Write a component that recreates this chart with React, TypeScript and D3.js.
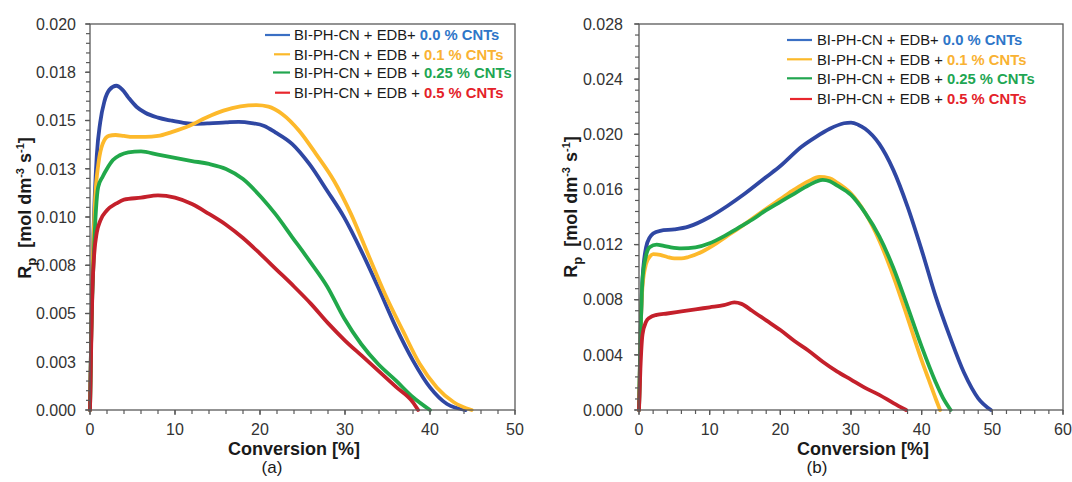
import React from "react";
import * as d3 from "d3";

type Pt = [number, number];

// ---------- Tick values / labels ----------
const xTicksA = [0, 10, 20, 30, 40, 50];
const xMinorA = d3.range(0, 50.01, 2);
const yTicksA = [0, 0.0025, 0.005, 0.0075, 0.01, 0.0125, 0.015, 0.0175, 0.02];
const yTickLabelsA = ["0.000", "0.003", "0.005", "0.008", "0.010", "0.013", "0.015", "0.018", "0.020"];
const yMinorA = d3.range(0, 0.02001, 0.0005);

const xTicksB = [0, 10, 20, 30, 40, 50, 60];
const xMinorB = d3.range(0, 60.01, 2);
const yTicksB = [0, 0.004, 0.008, 0.012, 0.016, 0.02, 0.024, 0.028];
const yTickLabelsB = ["0.000", "0.004", "0.008", "0.012", "0.016", "0.020", "0.024", "0.028"];
const yMinorB = d3.range(0, 0.02801, 0.0008);

// ---------- Legend ----------
const legendPrefixes = ["BI-PH-CN + EDB+ ", "BI-PH-CN + EDB + ", "BI-PH-CN + EDB + ", "BI-PH-CN + EDB + "];
const legendConc = ["0.0 % CNTs", "0.1 % CNTs", "0.25 % CNTs", "0.5 % CNTs"];

// ---------- Series (a) ----------
const blueA: Pt[] = [[0,0],[0.15,0.004],[0.4,0.009],[0.8,0.0132],[1.2,0.0149],[1.7,0.016],[2.3,0.0166],[3.1,0.0168],[3.8,0.0166],[4.5,0.0162],[5.5,0.0157],[6.5,0.0154],[8,0.01515],[9.5,0.015],[11,0.01488],[12.5,0.01483],[14,0.01485],[16,0.0149],[17.5,0.01493],[19,0.01487],[20.5,0.01472],[21.8,0.01439],[23.8,0.01378],[25.8,0.01275],[27.9,0.01136],[29.9,0.00998],[31.9,0.00826],[33.9,0.00636],[36,0.00428],[38,0.00256],[40,0.00117],[42,0.00031],[44.2,0]];
const yellowA: Pt[] = [[0,0],[0.15,0.004],[0.35,0.008],[0.6,0.0109],[1.0,0.0128],[1.5,0.0138],[2.2,0.0142],[3,0.01425],[4,0.0142],[5,0.01415],[6.5,0.01415],[8,0.0142],[9.6,0.0144],[11.7,0.01473],[13.7,0.01516],[15.7,0.01551],[17.7,0.01573],[19.6,0.0158],[21,0.01572],[22.6,0.01534],[24.6,0.01447],[26.6,0.01326],[28.7,0.01188],[30.7,0.01016],[32.7,0.00808],[34.7,0.00601],[36.8,0.00411],[38.8,0.00238],[40.8,0.00117],[42.8,0.0004],[44.9,0]];
const greenA: Pt[] = [[0,0],[0.15,0.004],[0.4,0.0075],[0.96,0.01155],[1.5,0.0121],[2,0.0125],[2.7,0.01295],[3.5,0.0132],[4.5,0.01335],[6,0.0134],[8,0.01323],[10,0.01306],[12,0.0129],[14,0.01275],[16,0.01249],[18,0.01197],[20.2,0.011],[21.8,0.01016],[23.8,0.00895],[25.8,0.00774],[27.9,0.0064],[29.9,0.00475],[31.9,0.00342],[33.9,0.00238],[36,0.00152],[38,0.00066],[40,0]];
const redA: Pt[] = [[0,0],[0.2,0.0047],[0.3,0.0064],[0.5,0.0081],[0.8,0.0092],[1.2,0.0098],[2,0.01035],[3.1,0.0107],[4,0.0109],[6,0.011],[8,0.01112],[10,0.011],[12,0.01067],[14,0.01016],[16,0.0096],[18,0.00891],[20,0.0081],[22,0.00725],[24,0.0064],[26,0.0055],[28,0.0045],[30,0.0036],[32,0.0028],[34,0.002],[36,0.0012],[38,0.0004],[38.6,0]];

// ---------- Series (b) ----------
const blueB: Pt[] = [[0,0],[0.2,0.005],[0.5,0.0095],[1,0.0118],[1.5,0.0125],[2,0.0128],[3,0.013],[5,0.0131],[7,0.0133],[10,0.014],[12.5,0.0148],[15,0.0157],[18,0.0169],[20,0.0177],[23,0.0191],[25,0.0198],[27,0.0204],[29,0.0208],[30,0.02085],[31,0.0207],[32,0.0204],[34,0.0193],[36,0.0174],[38,0.01475],[40,0.0116],[42,0.0082],[44,0.0053],[46,0.0027],[48,0.00085],[49.8,0]];
const yellowB: Pt[] = [[0,0],[0.2,0.005],[0.5,0.009],[1,0.0106],[1.5,0.0111],[2,0.0113],[3,0.01125],[4,0.0111],[5,0.011],[6,0.011],[7,0.0111],[9,0.0115],[11,0.0121],[13,0.0128],[15,0.0135],[18,0.0146],[20,0.0153],[22,0.016],[24,0.0166],[25.5,0.0169],[27,0.0168],[28,0.0165],[30,0.0157],[32,0.0143],[34,0.0123],[36,0.0097],[38,0.0067],[40,0.0036],[41,0.0022],[42,0.0008],[42.6,0]];
const greenB: Pt[] = [[0,0],[0.2,0.005],[0.5,0.0095],[1,0.0112],[1.5,0.0118],[2.5,0.012],[3.5,0.0119],[4.5,0.0118],[6,0.01172],[8,0.0118],[10,0.0121],[12,0.0126],[14,0.0132],[16,0.0138],[18,0.0145],[20,0.0151],[22,0.0157],[24,0.0163],[26,0.0167],[27,0.0166],[28,0.0163],[30,0.0156],[32,0.0143],[34,0.0126],[36,0.0103],[38,0.0075],[40,0.0046],[42,0.002],[43,0.0009],[44.1,0]];
const redB: Pt[] = [[0,0],[0.2,0.003],[0.5,0.0055],[1,0.0064],[1.5,0.0067],[2.5,0.0069],[4,0.007],[6,0.00715],[8,0.0073],[10,0.00745],[12,0.0076],[13.5,0.0078],[14.5,0.0077],[16,0.0072],[18,0.0065],[20,0.0058],[22,0.005],[24,0.0043],[26,0.0035],[28,0.0028],[30,0.0022],[32,0.0016],[34,0.0011],[36,0.0005],[37.8,0]];

const curveColors = ["#2f47a3", "#fdb92b", "#21a84a", "#c4202b"];
const legendLineColors = ["#3a6fc4", "#fbb92a", "#22a650", "#e8262d"];
const concColors = ["#2e76c8", "#f9b233", "#1fa653", "#e42229"];

const FONT = "'Liberation Sans', Arial, sans-serif";
const AXIS = "#595959";

interface PanelProps {
  left: number; right: number; top: number; bottom: number;
  xDomain: [number, number]; yDomain: [number, number];
  xTicks: number[]; xMinor: number[]; yTicks: number[]; yLabels: string[]; yMinor: number[];
  series: Pt[][];
  yLabelX: number;
  yTitle: [number, number];
  xTitle: [number, number];
  sub: [number, number, string];
  legRows: number[]; legX1: number[]; legX2: number; legTextX: number;
}

function Panel(p: PanelProps) {
  const x = d3.scaleLinear().domain(p.xDomain).range([p.left, p.right]);
  const y = d3.scaleLinear().domain(p.yDomain).range([p.bottom, p.top]);
  const line = d3.line<Pt>().x(d => x(d[0])).y(d => y(d[1])).curve(d3.curveMonotoneX);
  return (
    <g>
      {p.series.map((s, i) => (
        <path key={i} d={line(s) || ""} fill="none" stroke={curveColors[i]} strokeWidth={3.8} strokeLinejoin="round" strokeLinecap="round" />
      ))}
      <rect x={p.left} y={p.top} width={p.right - p.left} height={p.bottom - p.top} fill="none" stroke={AXIS} strokeWidth={1.3} />
      {p.yMinor.map((v, i) => (
        <line key={"ym" + i} x1={p.left - 4} x2={p.left} y1={y(v)} y2={y(v)} stroke={AXIS} strokeWidth={1.2} />
      ))}
      {p.yTicks.map((v, i) => (
        <g key={"yt" + i}>
          <line x1={p.left - 5} x2={p.left} y1={y(v)} y2={y(v)} stroke={AXIS} strokeWidth={1.3} />
          <text x={p.yLabelX} y={y(v)} dy="0.36em" textAnchor="end" fontFamily={FONT} fontSize={16} fill="#333">{p.yLabels[i]}</text>
        </g>
      ))}
      {p.xMinor.map((v, i) => (
        <line key={"xm" + i} x1={x(v)} x2={x(v)} y1={p.bottom} y2={p.bottom + 4} stroke={AXIS} strokeWidth={1.2} />
      ))}
      {p.xTicks.map((v, i) => (
        <g key={"xt" + i}>
          <line x1={x(v)} x2={x(v)} y1={p.bottom} y2={p.bottom + 5} stroke={AXIS} strokeWidth={1.3} />
          <text x={x(v)} y={p.bottom + 25} textAnchor="middle" fontFamily={FONT} fontSize={16} fill="#333">{v}</text>
        </g>
      ))}
      <text x={p.xTitle[0]} y={p.xTitle[1]} textAnchor="middle" fontFamily={FONT} fontSize={18} fontWeight="bold" fill="#1a1a1a">Conversion [%]</text>
      <text transform={`translate(${p.yTitle[0]},${p.yTitle[1]}) rotate(-90)`} textAnchor="middle" fontFamily={FONT} fontSize={18} fontWeight="bold" fill="#1a1a1a">
        <tspan>R</tspan>
        <tspan fontSize={13} dy={5}>p</tspan>
        <tspan dy={-5}>{"\u00a0 [mol dm"}</tspan>
        <tspan fontSize={11} dy={-7}>-3</tspan>
        <tspan dy={7}>{" s"}</tspan>
        <tspan fontSize={11} dy={-7}>-1</tspan>
        <tspan dy={7}>]</tspan>
      </text>
      <text x={p.sub[0]} y={p.sub[1]} textAnchor="middle" fontFamily={FONT} fontSize={17} fill="#1a1a1a">{p.sub[2]}</text>
      {legendConc.map((c, i) => (
        <g key={"lg" + i}>
          <line x1={p.legX1[i]} x2={p.legX2} y1={p.legRows[i]} y2={p.legRows[i]} stroke={legendLineColors[i]} strokeWidth={2.2} />
          <text x={p.legTextX} y={p.legRows[i] + 5.3} fontFamily={FONT} fontSize={14.8} fill="#1a1a1a" xmlSpace="preserve">
            {legendPrefixes[i]}
            <tspan fontWeight="bold" fill={concColors[i]}>{c}</tspan>
          </text>
        </g>
      ))}
    </g>
  );
}

export default function App() {
  return (
    <svg width={1072} height={482} style={{ position: "absolute", left: 0, top: 0, display: "block", background: "#fff" }}>
      <rect width={1072} height={482} fill="#fff" />
      <Panel
        left={90} right={515} top={24} bottom={410}
        xDomain={[0, 50]} yDomain={[0, 0.02]}
        xTicks={xTicksA} xMinor={xMinorA} yTicks={yTicksA} yLabels={yTickLabelsA} yMinor={yMinorA}
        series={[blueA, yellowA, greenA, redA]}
        yLabelX={76}
        yTitle={[31, 208]}
        xTitle={[294, 455]}
        sub={[272, 473, "(a)"]}
        legRows={[35, 54.3, 72.5, 92.7]} legX1={[265, 274, 273, 275]} legX2={290} legTextX={294}
      />
      <Panel
        left={639} right={1063} top={24} bottom={410}
        xDomain={[0, 60]} yDomain={[0, 0.028]}
        xTicks={xTicksB} xMinor={xMinorB} yTicks={yTicksB} yLabels={yTickLabelsB} yMinor={yMinorB}
        series={[blueB, yellowB, greenB, redB]}
        yLabelX={623}
        yTitle={[577, 207]}
        xTitle={[863, 455]}
        sub={[817, 473, "(b)"]}
        legRows={[40, 59.3, 78.3, 99]} legX1={[787, 787, 787, 790]} legX2={812} legTextX={817}
      />
    </svg>
  );
}
